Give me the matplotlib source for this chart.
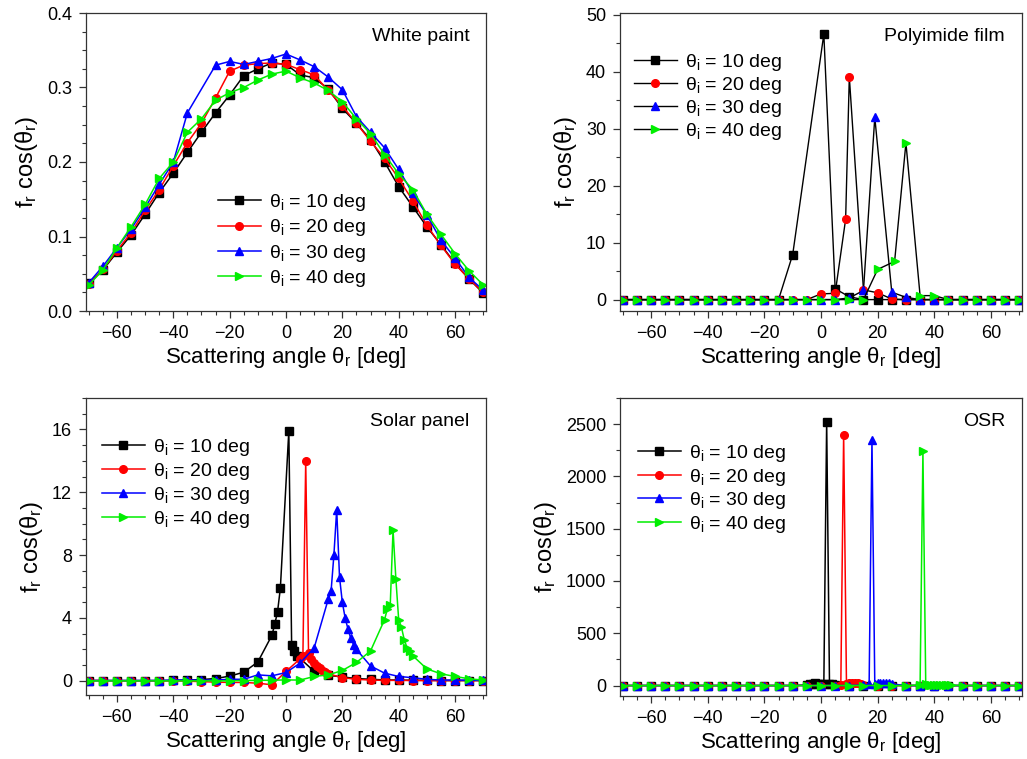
import matplotlib
matplotlib.use("Agg")
import matplotlib.pyplot as plt
from matplotlib.ticker import MultipleLocator

plt.rcParams['font.family'] = ['Liberation Sans', 'DejaVu Sans']
plt.rcParams['mathtext.fontset'] = 'custom'
plt.rcParams['mathtext.rm'] = 'Liberation Sans'
plt.rcParams['mathtext.it'] = 'Liberation Sans'

# === Data ===
labels = ['θ$_\\mathregular{i}$ = 10 deg', 'θ$_\\mathregular{i}$ = 20 deg',
          'θ$_\\mathregular{i}$ = 30 deg', 'θ$_\\mathregular{i}$ = 40 deg']
colors = ['#000000', '#ff0000', '#0000ff', '#00ee00']
markers = ['s', 'o', '^', '>']

# White paint
wp_x = [-70, -65, -60, -55, -50, -45, -40, -35, -30, -25, -20, -15, -10, -5, 0,
        5, 10, 15, 20, 25, 30, 35, 40, 45, 50, 55, 60, 65, 70]
wp_x30 = [-70, -65, -60, -55, -50, -45, -40, -35, -25, -20, -15, -10, -5, 0,
          5, 10, 15, 20, 25, 30, 35, 40, 45, 50, 55, 60, 65, 70]
wp_10 = [0.037, 0.055, 0.079, 0.102, 0.130, 0.159, 0.185, 0.213, 0.240, 0.266, 0.290, 0.316,
         0.325, 0.333, 0.331, 0.317, 0.313, 0.298, 0.272, 0.252, 0.230, 0.200, 0.167, 0.140,
         0.113, 0.089, 0.064, 0.043, 0.024]
wp_20 = [0.036, 0.056, 0.081, 0.105, 0.135, 0.163, 0.195, 0.226, 0.252, 0.286, 0.322, 0.330,
         0.332, 0.333, 0.331, 0.324, 0.317, 0.296, 0.275, 0.252, 0.228, 0.205, 0.178, 0.148,
         0.115, 0.088, 0.063, 0.043, 0.025]
wp_30 = [0.038, 0.060, 0.085, 0.110, 0.139, 0.170, 0.200, 0.266, 0.330, 0.335, 0.331,
         0.335, 0.339, 0.345, 0.337, 0.328, 0.314, 0.297, 0.261, 0.240, 0.219, 0.190, 0.158,
         0.129, 0.095, 0.071, 0.045, 0.028]
wp_40 = [0.035, 0.055, 0.085, 0.113, 0.143, 0.178, 0.200, 0.240, 0.258, 0.283, 0.293, 0.300,
         0.310, 0.318, 0.322, 0.313, 0.306, 0.296, 0.281, 0.258, 0.238, 0.210, 0.184, 0.163,
         0.130, 0.103, 0.077, 0.054, 0.035]

# Polyimide film
pf_x10 = [-70, -65, -60, -55, -50, -45, -40, -35, -30, -25, -20, -15, -10, 1, 5, 10, 15,
          20, 25, 30, 35, 40, 45, 50, 55, 60, 65, 70]
pf_10 = [0, 0, 0, 0, 0, 0, 0, 0, 0, 0, 0, 0, 7.9, 46.6, 1.9, 0.5, 0.0,
         0, 0, 0, 0, 0, 0, 0, 0, 0, 0, 0]
pf_x20 = [-70, -65, -60, -55, -50, -45, -40, -35, -30, -25, -20, -15, -10, -5, 0, 5, 8.7,
          10, 15, 20, 25, 30, 35, 40, 45, 50, 55, 60, 65, 70]
pf_20 = [0, 0, 0, 0, 0, 0, 0, 0, 0, 0, 0, 0, 0, 0, 1.0, 1.1, 14.1,
         39.1, 1.7, 1.2, 0.1, 0, 0, 0, 0, 0, 0, 0, 0, 0]
pf_x30 = [-70, -65, -60, -55, -50, -45, -40, -35, -30, -25, -20, -15, -10, -5, 0, 5, 10,
          15, 19, 25, 30, 35, 40, 45, 50, 55, 60, 65, 70]
pf_30 = [0, 0, 0, 0, 0, 0, 0, 0, 0, 0, 0, 0, 0, 0, 0, 0, 0.3,
         1.6, 32.0, 1.3, 0.4, 0, 0, 0, 0, 0, 0, 0, 0]
pf_x40 = [-70, -65, -60, -55, -50, -45, -40, -35, -30, -25, -20, -15, -10, -5, 0, 5, 10,
          15, 20, 26, 30, 35, 40, 45, 50, 55, 60, 65, 70]
pf_40 = [0, 0, 0, 0, 0, 0, 0, 0, 0, 0, 0, 0, 0, 0, 0, 0, 0,
         0, 5.3, 6.7, 27.5, 0.7, 0.7, 0, 0, 0, 0, 0, 0]

# Solar panel
sp_x10 = [-70, -65, -60, -55, -50, -45, -40, -35, -30, -25, -20, -15, -10, -5, -4, -3, -2,
          1, 2, 3, 4, 10, 15, 20, 25, 30, 35, 40, 45, 50, 55, 60, 65, 70]
sp_10 = [0.02, 0.02, 0.02, 0.02, 0.02, 0.02, 0.03, 0.05, 0.08, 0.15, 0.3, 0.55, 1.2, 2.9,
         3.6, 4.4, 5.9, 15.9, 2.3, 1.9, 1.6, 0.6, 0.35, 0.25, 0.15, 0.1, 0.06, 0.05, 0.04,
         0.03, 0.02, 0.02, 0.02, 0.02]
sp_x20 = [-70, -65, -60, -55, -50, -45, -40, -35, -30, -25, -20, -15, -10, -5, 0, 5, 6, 7,
          8, 9, 10, 11, 12, 13, 14, 15, 20, 25, 30, 35, 40, 45, 50, 55, 60, 65, 70]
sp_20 = [0.02, 0.02, 0.0, 0.0, 0.0, 0.0, 0.0, -0.02, -0.05, -0.08, -0.1, -0.1, -0.15, -0.25,
         0.6, 1.4, 1.6, 14.0, 1.8, 1.4, 1.15, 0.95, 0.8, 0.65, 0.55, 0.45, 0.2, 0.1, 0.05,
         0.03, 0.03, 0.02, 0.02, 0.02, 0.02, 0.02, 0.02]
sp_x30 = [-70, -65, -60, -55, -50, -45, -40, -35, -30, -25, -20, -15, -10, -5, 0, 5, 10, 15,
          16, 17, 18, 19, 20, 21, 22, 23, 24, 25, 30, 35, 40, 45, 50, 55, 60, 65, 70]
sp_30 = [0.02, 0.02, 0.02, 0.02, 0.02, 0.02, 0.05, 0.05, 0.05, 0.05, 0.1, 0.1, 0.38, 0.32,
         0.53, 1.13, 2.1, 5.2, 5.7, 8.0, 10.9, 6.6, 5.0, 4.0, 3.3, 2.7, 2.3, 2.0, 0.95, 0.49,
         0.28, 0.2, 0.1, 0.05, 0.05, 0.04, 0.03]
sp_x40 = [-70, -65, -60, -55, -50, -45, -40, -35, -30, -25, -20, -15, -10, -5, 0, 5, 10, 15,
          20, 25, 30, 35, 36, 37, 38, 39, 40, 41, 42, 43, 44, 45, 50, 55, 60, 65, 70]
sp_40 = [0.0, 0.0, 0.0, 0.0, 0.0, 0.0, 0.0, 0.0, 0.0, 0.0, 0.0, 0.02, 0.03, 0.04, 0.06,
         0.05, 0.28, 0.38, 0.66, 1.17, 1.9, 3.9, 4.6, 4.8, 9.6, 6.5, 3.9, 3.4, 2.6, 2.1, 1.9,
         1.6, 0.76, 0.45, 0.28, 0.13, 0.05]

# OSR
osr_x10 = [-70, -65, -60, -55, -50, -45, -40, -35, -30, -25, -20, -15, -10, -5, -4, -3, -2,
           -1, 0, 1, 2, 3, 4, 5, 10, 15, 20, 25, 30, 35, 40, 45, 50, 55, 60, 65, 70]
osr_10 = [0, 0, 0, 0, 0, 0, 0, 0, 0, 0, 0, 0, 0, 5, 15, 18, 20, 18, 15, 10, 2525, 15, 10, 5,
          0, 0, 0, 0, 0, 0, 0, 0, 0, 0, 0, 0, 0]
osr_x20 = [-70, -65, -60, -55, -50, -45, -40, -35, -30, -25, -20, -15, -10, -5, 0, 5, 7, 8, 9,
           10, 11, 12, 13, 14, 15, 20, 25, 30, 35, 40, 45, 50, 55, 60, 65, 70]
osr_20 = [0, 0, 0, 0, 0, 0, 0, 0, 0, 0, 0, 0, 0, 0, 0, 0, 5, 2400, 10, 20, 22, 22, 20, 18, 5,
          0, 0, 0, 0, 0, 0, 0, 0, 0, 0, 0]
osr_x30 = [-70, -65, -60, -55, -50, -45, -40, -35, -30, -25, -20, -15, -10, -5, 0, 5, 10, 15,
           17, 18, 19, 20, 21, 22, 23, 24, 25, 30, 35, 40, 45, 50, 55, 60, 65, 70]
osr_30 = [0, 0, 0, 0, 0, 0, 0, 0, 0, 0, 0, 0, 0, 0, 0, 0, 0, 5, 10, 2350, 15, 25, 28, 28, 25,
          22, 15, 0, 0, 0, 0, 0, 0, 0, 0, 0]
osr_x40 = [-70, -65, -60, -55, -50, -45, -40, -35, -30, -25, -20, -15, -10, -5, 0, 5, 10, 15,
           20, 25, 30, 35, 36, 37, 38, 39, 40, 41, 42, 43, 44, 45, 46, 50, 55, 60, 65, 70]
osr_40 = [0, 0, 0, 0, 0, 0, 0, 0, 0, 0, 0, 0, 0, 0, 0, 0, 0, 0, 0, 0, 0, 5, 2240, 10, 8, 8,
          8, 8, 8, 8, 6, 5, 3, 0, 0, 0, 0, 0]

# === Figure layout (pixel boxes) ===
W, H = 1027, 759
fig = plt.figure(figsize=(W / 100, H / 100), dpi=100)


def make_ax(left, top, right, bottom):
    return fig.add_axes([left / W, (H - bottom) / H, (right - left) / W, (bottom - top) / H])


def style_ax(ax, ylim, ymaj, ymin, fmt=None):
    ax.set_xlim(-71, 71)
    ax.set_ylim(*ylim)
    ax.xaxis.set_major_locator(MultipleLocator(20))
    ax.xaxis.set_minor_locator(MultipleLocator(5))
    ax.yaxis.set_major_locator(MultipleLocator(ymaj))
    ax.yaxis.set_minor_locator(MultipleLocator(ymin))
    ax.tick_params(which='both', direction='out', top=False, right=False, color='#333333')
    ax.tick_params(which='major', length=5, width=0.9, pad=5, labelsize=13)
    ax.tick_params(which='minor', length=3, width=0.8)
    for s in ax.spines.values():
        s.set_color('#333333')
        s.set_linewidth(0.9)
    ax.set_xlabel('Scattering angle θ$_\\mathregular{r}$ [deg]', fontsize=16, labelpad=2)
    ax.set_ylabel('f$_\\mathregular{r}$ cos(θ$_\\mathregular{r}$)', fontsize=17, labelpad=5)
    if fmt:
        ax.yaxis.set_major_formatter(fmt)


ax1 = make_ax(86, 13, 486, 311)
ax2 = make_ax(620, 13, 1022, 311)
ax3 = make_ax(86, 398, 486, 695)
ax4 = make_ax(620, 398, 1022, 696)

leg_kw = dict(loc='upper left', frameon=False, fontsize=14, handlelength=2.2,
              handletextpad=0.45, borderaxespad=0)

# White paint
for x, y, c, m, lab in zip([wp_x, wp_x, wp_x30, wp_x], [wp_10, wp_20, wp_30, wp_40],
                           colors, markers, labels):
    ax1.plot(x, y, color=c, marker=m, ms=5.5, lw=1.1, label=lab)
style_ax(ax1, (0, 0.4), 0.1, 0.025, plt.FormatStrFormatter('%.1f'))
ax1.legend(bbox_to_anchor=(0.31, 0.425), labelspacing=0.22, **leg_kw)
ax1.text(0.96, 0.92, 'White paint', transform=ax1.transAxes, ha='right', va='center', fontsize=14)

# Polyimide film (black connecting lines)
for x, y, c, m, lab in zip([pf_x10, pf_x20, pf_x30, pf_x40], [pf_10, pf_20, pf_30, pf_40],
                           colors, markers, labels):
    ax2.plot(x, y, color='black', marker=m, mfc=c, mec=c, ms=5.5, lw=1.0, label=lab)
style_ax(ax2, (-2, 50.3), 10, 5)
ax2.legend(bbox_to_anchor=(0.015, 0.895), labelspacing=0.1, **leg_kw)
ax2.text(0.958, 0.92, 'Polyimide film', transform=ax2.transAxes, ha='right', va='center',
         fontsize=14)

# Solar panel
for x, y, c, m, lab in zip([sp_x10, sp_x20, sp_x30, sp_x40], [sp_10, sp_20, sp_30, sp_40],
                           colors, markers, labels):
    ax3.plot(x, y, color=c, marker=m, ms=5.5, lw=1.1, label=lab)
style_ax(ax3, (-0.9, 18), 4, 1)
ax3.legend(bbox_to_anchor=(0.02, 0.895), labelspacing=0.15, **leg_kw)
ax3.text(0.957, 0.92, 'Solar panel', transform=ax3.transAxes, ha='right', va='center',
         fontsize=14)

# OSR
for x, y, c, m, lab in zip([osr_x10, osr_x20, osr_x30, osr_x40], [osr_10, osr_20, osr_30, osr_40],
                           colors, markers, labels):
    ax4.plot(x, y, color=c, marker=m, ms=5.5, lw=1.1, label=lab)
style_ax(ax4, (-100, 2750), 500, 250)
ax4.legend(bbox_to_anchor=(0.025, 0.875), labelspacing=0.13, **leg_kw)
ax4.text(0.958, 0.92, 'OSR', transform=ax4.transAxes, ha='right', va='center', fontsize=14)

fig.savefig('out.png', dpi=100)
